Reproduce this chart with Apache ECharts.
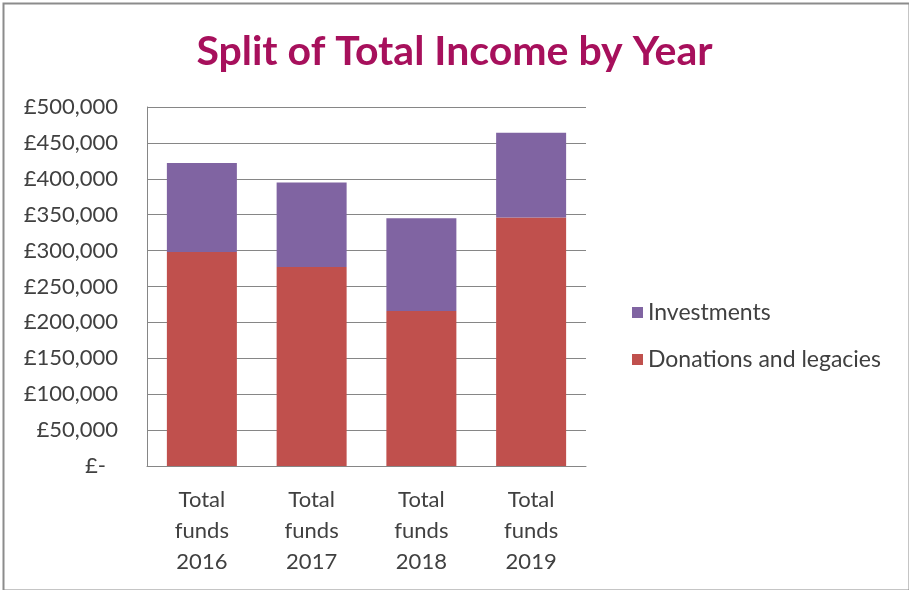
<!DOCTYPE html>
<html>
<head>
<meta charset="utf-8">
<script src="https://cdn.jsdelivr.net/npm/echarts@6/dist/echarts.min.js"></script>
<style>
html,body{margin:0;padding:0;background:#fff;}
#chart{width:909px;height:590px;}
</style>
</head>
<body>
<div id="chart"></div>
<script>
const categories = ['Total\nfunds\n2016', 'Total\nfunds\n2017', 'Total\nfunds\n2018', 'Total\nfunds\n2019'];
const donations = [298000, 277000, 216000, 346000];
const investments = [124000, 118000, 129000, 118000];
const seriesNames = ['Donations and legacies', 'Investments'];
const yTicks = { min: 0, max: 500000, interval: 50000 };

const chart = echarts.init(document.getElementById('chart'));
const FONT = 'Lato';
chart.setOption({
  animation: false,
  backgroundColor: '#fff',
  title: {
    text: 'Split of Total Income by Year',
    left: 'center',
    top: 26,
    textStyle: { fontFamily: FONT, fontWeight: 'bold', fontSize: 41, color: '#A7105C' }
  },
  graphic: [{
    type: 'rect', left: 1, top: 1, silent: true,
    shape: { x: 0, y: 0, width: 906, height: 587 },
    style: { fill: 'none', stroke: '#8c8c8c', lineWidth: 2 }
  }],
  legend: {
    orient: 'vertical',
    left: 627, top: 296,
    itemWidth: 11, itemHeight: 11, itemGap: 24,
    data: ['Investments', 'Donations and legacies'],
    icon: 'rect',
    textStyle: { fontFamily: FONT, fontSize: 23, color: '#404040', lineHeight: 20, padding: [0, 0, 0, 0] }
  },
  grid: { left: 147, right: 323, top: 107, bottom: 124 },
  xAxis: {
    type: 'category',
    data: categories,
    axisLine: { lineStyle: { color: '#868686', width: 1 } },
    axisTick: { show: false },
    axisLabel: { interval: 0, margin: 18, fontFamily: FONT, fontSize: 22, lineHeight: 31, color: '#404040', align: 'center' }
  },
  yAxis: {
    type: 'value',
    min: yTicks.min, max: yTicks.max, interval: yTicks.interval,
    axisLine: { show: true, lineStyle: { color: '#868686', width: 1 } },
    axisTick: { show: false },
    splitLine: { lineStyle: { color: '#868686', width: 1 } },
    axisLabel: {
      margin: 29, fontFamily: FONT, fontSize: 22, color: '#404040',
      formatter: function (v) {
        if (v === 0) return '{z|£-}';
        return '£' + v.toLocaleString('en-GB');
      },
      rich: { z: { fontFamily: FONT, fontSize: 22, color: '#404040', padding: [0, 12, 0, 0] } }
    }
  },
  series: [
    { name: seriesNames[0], type: 'bar', stack: 'total', barWidth: 70, data: donations, itemStyle: { color: '#C0504D' } },
    { name: seriesNames[1], type: 'bar', stack: 'total', barWidth: 70, data: investments, itemStyle: { color: '#8064A2' } }
  ]
});
</script>
</body>
</html>
